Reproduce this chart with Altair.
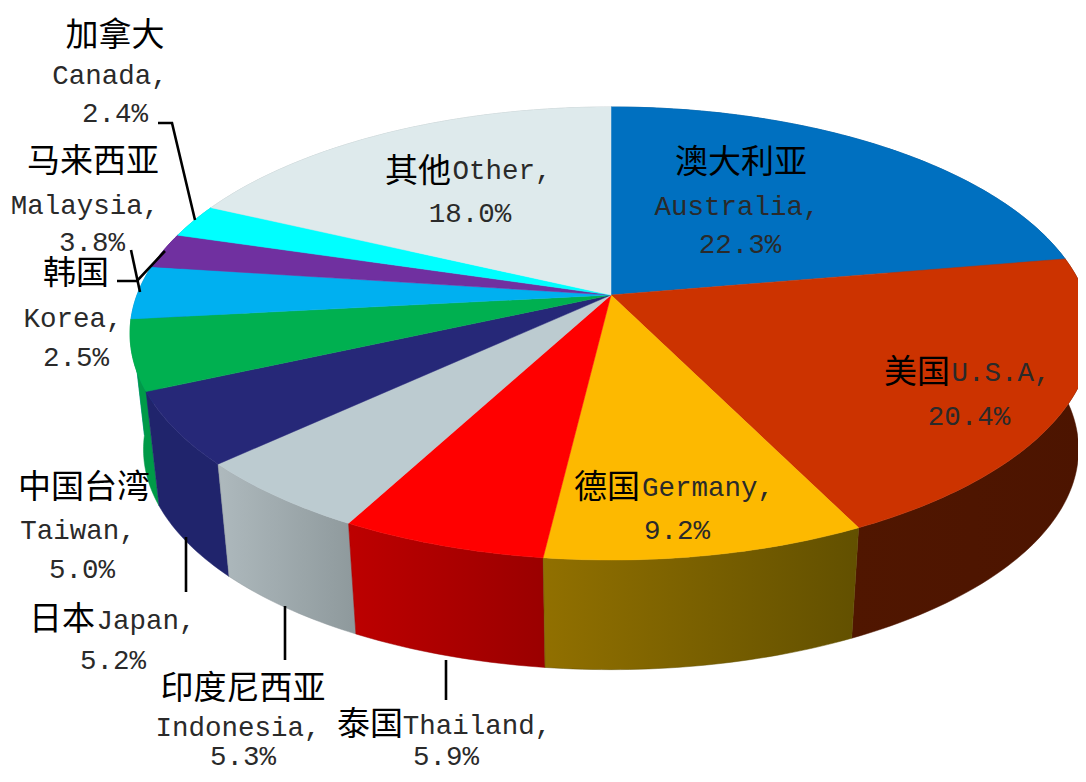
import math
import altair as alt
import pandas as pd

# ---- chart values -------------------------------------------------------
names = ["澳大利亚 Australia", "美国 U.S.A", "德国 Germany", "泰国 Thailand", "印度尼西亚 Indonesia",
         "日本 Japan", "中国台湾 Taiwan", "马来西亚 Malaysia", "韩国 Korea", "加拿大 Canada", "其他 Other"]
shares = [22.3, 20.4, 9.2, 5.9, 5.3, 5.2, 5.0, 3.8, 2.5, 2.4, 18.0]
top_colors = ["#0070C0", "#CC3300", "#FDB900", "#FF0000", "#BCCBD0", "#262878",
              "#00B050", "#00B0F0", "#7030A0", "#00FFFF", "#DEEAEC"]
wall_left = ["#004d85", "#501600", "#917000", "#bd0000", "#aeb9bd", "#20246c",
             "#009a48", "#0088bb", "#552080", "#00c0c0", "#aab4b6"]
wall_right = ["#004d85", "#4c1400", "#625000", "#9a0000", "#8e999c", "#20246c",
              "#009a48", "#0088bb", "#552080", "#00c0c0", "#aab4b6"]

# ---- perspective model of the pie (plot-area pixels) --------------------
OX, OY = 8, 8
CX, CY = 611 - OX, 295 - OY
A, B, K = 474, 220, 0.17
DEPTH, SHRINK = 117, 0.972


def top_pt(pct):
    t = math.radians(pct * 3.6)
    u, v = math.sin(t), math.cos(t)
    d = 1 + K * v
    return (A * u / d, -B * v / d)


def arc(a, b):
    n = max(2, int((b - a) * 3.6) + 2)
    return [top_pt(a + (b - a) * i / (n - 1)) for i in range(n)]


def feature(name, ring):
    ring = [[round(x, 2), round(y, 2)] for x, y in ring]
    ring.append(ring[0])
    return {"type": "Feature", "properties": {"name": name},
            "geometry": {"type": "Polygon", "coordinates": [ring]}}


starts, total = [], 0.0
for s in shares:
    starts.append(total)
    total += s

top_features, walls = [], []
for name, s0, s, cl, cr in zip(names, starts, shares, wall_left, wall_right):
    pts = arc(s0, s0 + s)
    top_features.append(feature(name, [(CX, CY)] + [(CX + x, CY + y) for x, y in pts]))
    upper = [(CX + x, CY + y) for x, y in pts]
    lower = [(CX + SHRINK * x, CY + DEPTH + SHRINK * y) for x, y in pts]
    wall = feature(name, upper + lower[::-1])
    depth_key = -sum(y for _, y in pts) / len(pts)
    walls.append((depth_key, wall, cl, cr))


def geo_data(features):
    return alt.Data(values={"type": "FeatureCollection", "features": features},
                    format=alt.DataFormat(type="json", property="features"))


layers = []
for _, wall, cl, cr in sorted(walls, key=lambda w: -w[0]):
    grad = alt.LinearGradient(gradient="linear", x1=0, x2=1, y1=0, y2=0,
                              stops=[alt.GradientStop(offset=0, color=cl),
                                     alt.GradientStop(offset=1, color=cr)])
    layers.append(alt.Chart(geo_data([wall])).mark_geoshape(fill=grad, stroke=cr, strokeWidth=0.5)
                  .project(type="identity", scale=1, translate=[0, 0]))

color_scale = alt.Scale(domain=names, range=top_colors)
layers.append(
    alt.Chart(geo_data(top_features)).mark_geoshape(strokeWidth=0.5).encode(
        fill=alt.Color("properties.name:N", scale=color_scale, legend=None),
        stroke=alt.Color("properties.name:N", scale=color_scale, legend=None),
    ).project(type="identity", scale=1, translate=[0, 0])
)

# ---- leader lines -------------------------------------------------------
leaders = {
    "Canada": [(158, 123), (172, 123), (195, 220)],
    "Malaysia": [(131, 250), (140, 292)],
    "Korea": [(117, 281), (137, 281), (165, 251)],
    "Japan": [(186, 537), (186, 592)],
    "Indonesia": [(285, 606), (285, 660)],
    "Thailand": [(446, 660), (446, 700)],
}
leader_rows = [{"id": k, "seq": i, "px": x - OX, "py": y - OY}
               for k, v in leaders.items() for i, (x, y) in enumerate(v)]
layers.append(
    alt.Chart(pd.DataFrame(leader_rows)).mark_line(color="#000000", strokeWidth=2.6).encode(
        x=alt.X("px:Q", scale=None, axis=None),
        y=alt.Y("py:Q", scale=None, axis=None),
        detail="id:N",
        order="seq:Q",
    )
)

# ---- labels -------------------------------------------------------------
cjk_text = ["加拿大", "马来西亚", "韩国", "中国台湾", "日本", "印度尼西亚", "泰国", "德国", "美国", "澳大利亚", "其他"]
cjk_x = [115, 93, 76, 84, 62, 243, 370, 607, 917, 741, 418]
cjk_y = [36, 162, 274, 488, 620, 689, 725, 488, 373, 163, 172]

latin_text = ["Canada,", "2.4%", "Malaysia,", "3.8%", "Korea,", "2.5%", "Taiwan,", "5.0%", "Japan,", "5.2%",
              "Indonesia,", "5.3%", "Thailand,", "5.9%", "Germany,", "9.2%", "U.S.A,", "20.4%",
              "Australia,", "22.3%", "Other,", "18.0%"]
latin_x = [110, 115, 85, 92, 73, 76, 78, 82, 146, 113, 238, 243, 477, 446, 708, 677, 1001, 969, 737, 740, 502, 470]
latin_y = [76, 114, 206, 243, 319, 358, 531, 570, 621, 661, 728, 757, 726, 757, 488, 531, 373, 417, 207, 245, 171, 214]

cjk_df = pd.DataFrame({"t": cjk_text, "px": [x - OX for x in cjk_x], "py": [y - OY for y in cjk_y]})
lat_df = pd.DataFrame({"t": latin_text, "px": [x - OX for x in latin_x], "py": [y - OY for y in latin_y]})

layers.append(
    alt.Chart(cjk_df).mark_text(font="Noto Sans CJK SC", fontSize=33, color="#000000", align="center",
                                baseline="middle").encode(
        x=alt.X("px:Q", scale=None, axis=None), y=alt.Y("py:Q", scale=None, axis=None), text="t:N")
)
layers.append(
    alt.Chart(lat_df).mark_text(font="Liberation Mono", fontSize=27.5, color="#2a2a2a", align="center",
                                baseline="middle").encode(
        x=alt.X("px:Q", scale=None, axis=None), y=alt.Y("py:Q", scale=None, axis=None), text="t:N")
)

chart = alt.layer(*layers).properties(
    width=1070, height=766, padding=0, background="#ffffff",
    autosize=alt.AutoSizeParams(type="none"),
).configure_view(stroke=None)

chart.save("out.html", embed_options={"renderer": "svg", "actions": False})
